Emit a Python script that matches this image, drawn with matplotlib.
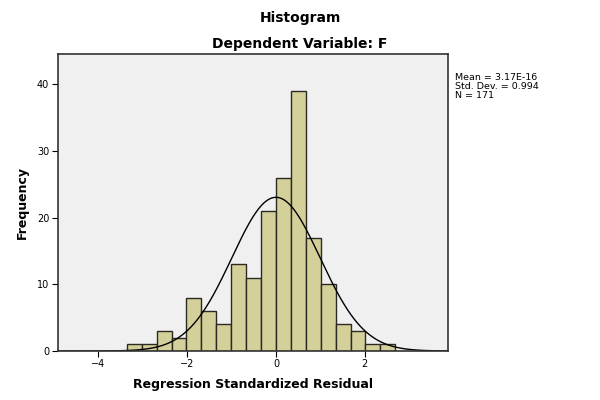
import matplotlib
matplotlib.use('Agg')
import matplotlib.pyplot as plt
import numpy as np

# bin edges and counts
bin_start = -3.36
bin_width = 0.336
counts = [1, 1, 3, 2, 8, 6, 4, 13, 11, 21, 26, 39, 17, 10, 4, 3, 1, 1]
mean = 3.17e-16
std = 0.994
n = 171
x_ticks = [-4, -2, 0, 2]
y_ticks = [0, 10, 20, 30, 40]

edges = bin_start + bin_width * np.arange(len(counts) + 1)

fig = plt.figure(figsize=(6, 4), dpi=100)
ax = fig.add_axes([0.096, 0.1225, 0.651, 0.7415])
ax.set_facecolor('#f0f0f0')

ax.bar(edges[:-1], counts, width=bin_width, align='edge',
       color='#d4d09a', edgecolor='#2a2a22', linewidth=1.0)

xs = np.linspace(-4.9, 3.9, 400)
ys = n * bin_width / (std * np.sqrt(2 * np.pi)) * np.exp(-0.5 * ((xs - mean) / std) ** 2)
ax.plot(xs, ys, color='black', linewidth=1.0)

ax.set_xlim(-4.92, 3.88)
ax.set_ylim(0, 44.5)
ax.set_xticks(x_ticks)
ax.set_yticks(y_ticks)
ax.tick_params(labelsize=7, length=4, width=0.8, direction='out', pad=2)
for s in ax.spines.values():
    s.set_linewidth(1.2)
    s.set_color('#333333')

ax.set_xlabel('Regression Standardized Residual', fontsize=9, fontweight='bold', labelpad=6)
ax.set_ylabel('Frequency', fontsize=9, fontweight='bold', labelpad=6)

fig.text(0.5, 0.955, 'Histogram', ha='center', va='center', fontsize=10, fontweight='bold')
fig.text(0.5, 0.89, 'Dependent Variable: F', ha='center', va='center', fontsize=10, fontweight='bold')

fig.text(0.758, 0.784, 'Mean = 3.17E-16\nStd. Dev. = 0.994\nN = 171',
         ha='left', va='center', fontsize=6.8, linespacing=0.95)

fig.savefig('out.png', dpi=100)
